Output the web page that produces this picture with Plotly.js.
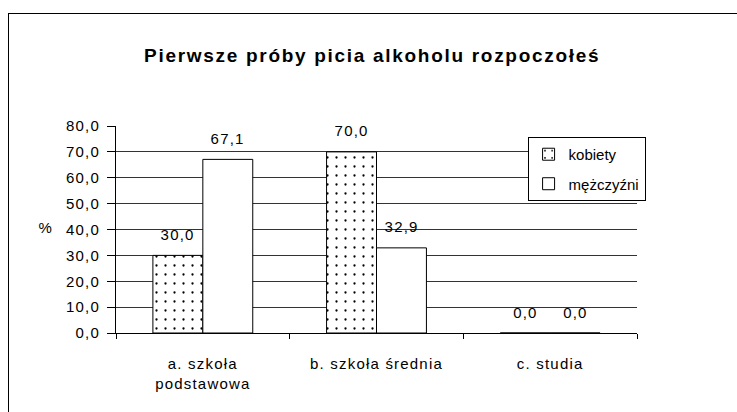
<!DOCTYPE html>
<html>
<head>
<meta charset="utf-8">
<script src="https://cdn.plot.ly/plotly-3.0.1.min.js"></script>
<style>
  html, body { margin: 0; padding: 0; background: #fff; }
  #wrap { position: relative; width: 737px; height: 412px; overflow: hidden; }
  #chart { position: absolute; left: 0; top: 0; width: 737px; height: 412px; }
  #frame { position: absolute; left: 8px; top: 13px; width: 800px; height: 500px;
           border-left: 1px solid #000; border-top: 1px solid #000; pointer-events: none; }
  #chart .xtick text, #chart .ytick text, #chart .annotation-text { letter-spacing: 1.2px; }
  #chart .gtitle { letter-spacing: 1.7px; }
</style>
</head>
<body>
<div id="wrap">
  <div id="chart"></div>
  <div id="frame"></div>
</div>
<script>
const chartTitle = "Pierwsze próby picia alkoholu rozpoczołeś";
const categories = ["a. szkoła<br>podstawowa", "b. szkoła średnia", "c. studia"];
const seriesNames = ["kobiety", "mężczyźni"];
const kobiety = [30.0, 70.0, 0.0];
const mezczyzni = [67.1, 32.9, 0.0];
const yTicks = [0, 10, 20, 30, 40, 50, 60, 70, 80];
const yLabel = "%";

const FONT = "Liberation Sans, Arial, sans-serif";
const FS = 15;
const fmt = v => v.toFixed(1).replace(".", ",");

const traces = [
  {
    type: "bar", name: seriesNames[0], x: categories, y: kobiety, legendgroup: "k",
    marker: {
      color: "#fff",
      line: { color: "#000", width: 1 },
      pattern: { shape: ".", fgcolor: "#000", bgcolor: "#fff", size: 9, solidity: 0.05 }
    },
    hoverinfo: "none"
  },
  {
    type: "bar", name: seriesNames[1], x: categories, y: mezczyzni, legendgroup: "m",
    marker: { color: "#fff", line: { color: "#000", width: 1 } },
    hoverinfo: "none"
  }
];

const annotations = [];
[kobiety, mezczyzni].forEach((arr, s) => {
  arr.forEach((v, i) => {
    annotations.push({
      x: categories[i], y: v, xref: "x", yref: "y",
      text: fmt(v), showarrow: false,
      xshift: s === 0 ? -25 : 25, yshift: 21,
      yanchor: "middle", xanchor: "center",
      font: { family: FONT, size: FS, color: "#000" }
    });
  });
});
annotations.push({
  x: 0, y: 0.5, xref: "paper", yref: "paper", xanchor: "right", yanchor: "middle",
  xshift: -62, yshift: 2, text: yLabel, showarrow: false,
  font: { family: FONT, size: FS, color: "#000" }
});

const layout = {
  width: 737, height: 412,
  margin: { l: 116, r: 100, t: 126, b: 79 },
  paper_bgcolor: "#fff", plot_bgcolor: "#fff",
  separators: ", ",
  title: {
    text: "<b>" + chartTitle + "</b>",
    x: 0.505, xanchor: "center", y: 0.866, yanchor: "middle",
    font: { family: FONT, size: 19, color: "#000" }
  },
  font: { family: FONT, size: FS, color: "#000" },
  barmode: "group", bargap: 0.425, bargroupgap: 0,
  showlegend: true,
  legend: {
    x: 0.79, y: 0.947, xanchor: "left", yanchor: "top",
    bgcolor: "#fff", bordercolor: "#000", borderwidth: 1,
    font: { family: FONT, size: FS, color: "#000" },
    itemwidth: 30, tracegroupgap: 7
  },
  xaxis: {
    type: "category", tickson: "boundaries", ticks: "outside", ticklen: 5,
    tickcolor: "#000", showline: true, linecolor: "#000", linewidth: 1,
    showgrid: false, ticklabelstandoff: 17,
    tickfont: { family: FONT, size: FS, color: "#000" }
  },
  yaxis: {
    range: [0, 80], tickvals: yTicks, tickformat: ".1f",
    ticks: "outside", ticklen: 8, tickcolor: "#000",
    showline: true, linecolor: "#000", linewidth: 1,
    showgrid: true, gridcolor: "#333", gridwidth: 1, zeroline: false,
    ticklabelstandoff: 4,
    tickfont: { family: FONT, size: FS, color: "#000" }
  },
  annotations: annotations
};

Plotly.newPlot("chart", traces, layout, { staticPlot: true, displayModeBar: false });
</script>
</body>
</html>
